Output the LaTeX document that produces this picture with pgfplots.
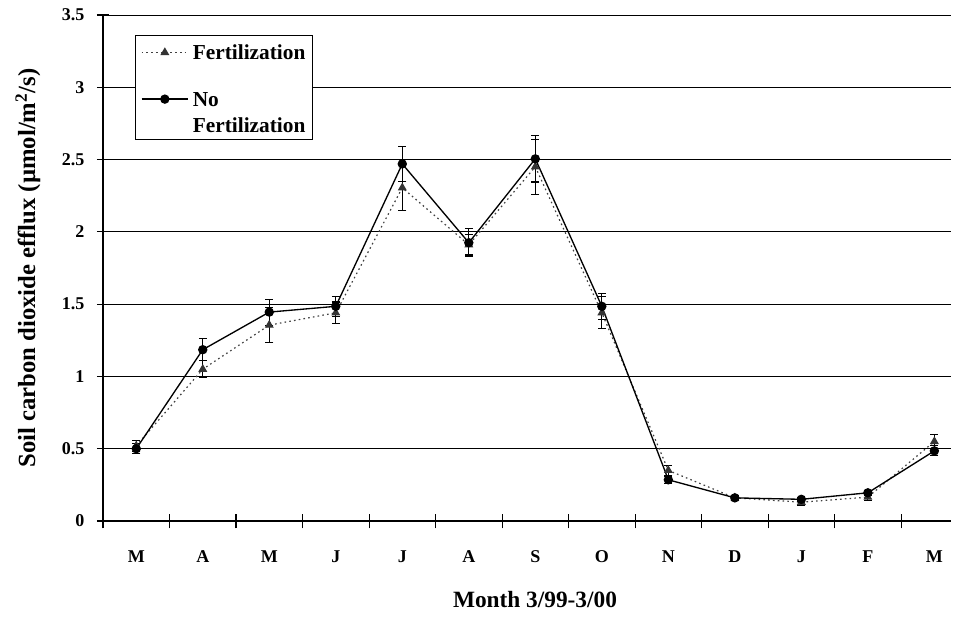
\documentclass[border=0pt]{standalone}
\usepackage{pgfplots}
\pgfplotsset{compat=1.18}
\usepackage{fontspec}
\setmainfont{Liberation Serif}
\begin{document}
\begin{tikzpicture}
\useasboundingbox (-77.25pt,-80.25pt) rectangle (641.25pt,390.75pt);
\begin{axis}[
  scale only axis,
  width=636pt, height=379.5pt,
  xmin=-0.5, xmax=12.25,
  ymin=0, ymax=3.5,
  axis x line*=bottom, axis y line*=left,
  axis line style={black, line width=0.8pt, -},
  ytick={0,0.5,1,1.5,2,2.5,3,3.5},
  ymajorgrids, grid style={black, line width=0.7pt},
  xtick={0,1,2,3,4,5,6,7,8,9,10,11,12},
  xticklabels={M,A,M,J,J,A,S,O,N,D,J,F,M},
  minor xtick={-0.5,0.5,1.5,2.5,3.5,4.5,5.5,6.5,7.5,8.5,9.5,10.5,11.5},
  major x tick style={draw=none},
  minor x tick style={black, line width=0.8pt},
  minor tick length=11pt,
  major tick length=9pt,
  y tick style={black, line width=0.8pt},
  tick align=center,
  /pgf/number format/assume math mode=true,
  ticklabel style={font=\bfseries\fontsize{13.5}{15}\selectfont},
  xticklabel style={yshift=-14pt},
  yticklabel style={xshift=-6pt},
  xlabel={Month 3/99-3/00},
  ylabel={Soil carbon dioxide efflux (µmol/m\textsuperscript{2}/s)},
  label style={font=\bfseries\fontsize{17.5}{20}\selectfont},
  x label style={at={(axis description cs:0.5,0)}, anchor=center, yshift=-59pt, xshift=6pt},
  y label style={at={(axis description cs:-0.0885,0.5)}, anchor=center, font=\bfseries\fontsize{18.5}{20}\selectfont},
  legend image code/.code={\draw[mark repeat=2,mark phase=2,#1] plot coordinates {(0pt,0pt) (17.5pt,0pt) (35pt,0pt)};},
  legend style={at={(axis description cs:0.0377,0.9605)}, anchor=north west,
    draw=black, line width=0.8pt, fill=white, font=\bfseries\fontsize{16}{19}\selectfont,
    row sep=0pt, column sep=2pt, inner xsep=4pt, inner ysep=0pt,
    nodes={inner ysep=0pt, inner xsep=1pt}},
  legend cell align=left,
]
\addplot[black!75, line width=0.9pt, dash pattern=on 1.2pt off 2.4pt,
  mark=triangle*, mark size=3pt, mark options={solid, fill=black!80, draw=black!80},
  error bars/.cd, y dir=both, y explicit,
  error bar style={black, line width=0.8pt, solid},
  error mark options={rotate=90, mark size=3pt, black, line width=0.8pt, solid}]
coordinates {
(0,0.52) +- (0,0.04)
(1,1.05) +- (0,0.06)
(2,1.355) +- (0,0.12)
(3,1.44) +- (0,0.075)
(4,2.305) +- (0,0.16)
(5,1.91) +- (0,0.07)
(6,2.45) +- (0,0.19)
(7,1.44) +- (0,0.11)
(8,0.35) +- (0,0.035)
(9,0.16) +- (0,0.015)
(10,0.13) +- (0,0.02)
(11,0.165) +- (0,0.02)
(12,0.55) +- (0,0.05)
};
\addlegendentry[text height=18pt, text depth=7.4pt]{Fertilization}
\addplot[black, line width=1pt,
  mark=*, mark size=3pt, mark options={solid, fill=black},
  error bars/.cd, y dir=both, y explicit,
  error bar style={black, line width=0.8pt},
  error mark options={rotate=90, mark size=3pt, black, line width=0.8pt}]
coordinates {
(0,0.50) +- (0,0.035)
(1,1.185) +- (0,0.075)
(2,1.445) +- (0,0.09)
(3,1.485) +- (0,0.07)
(4,2.47) +- (0,0.12)
(5,1.925) +- (0,0.095)
(6,2.505) +- (0,0.16)
(7,1.485) +- (0,0.09)
(8,0.285) +- (0,0.025)
(9,0.16) +- (0,0.015)
(10,0.15) +- (0,0.015)
(11,0.195) +- (0,0.015)
(12,0.485) +- (0,0.035)
};
\addlegendentry[text height=27.6pt, text depth=17pt]{No}
\addlegendimage{empty legend}
\addlegendentry[text height=3pt, text depth=5pt]{Fertilization}
\end{axis}
\end{tikzpicture}
\end{document}
